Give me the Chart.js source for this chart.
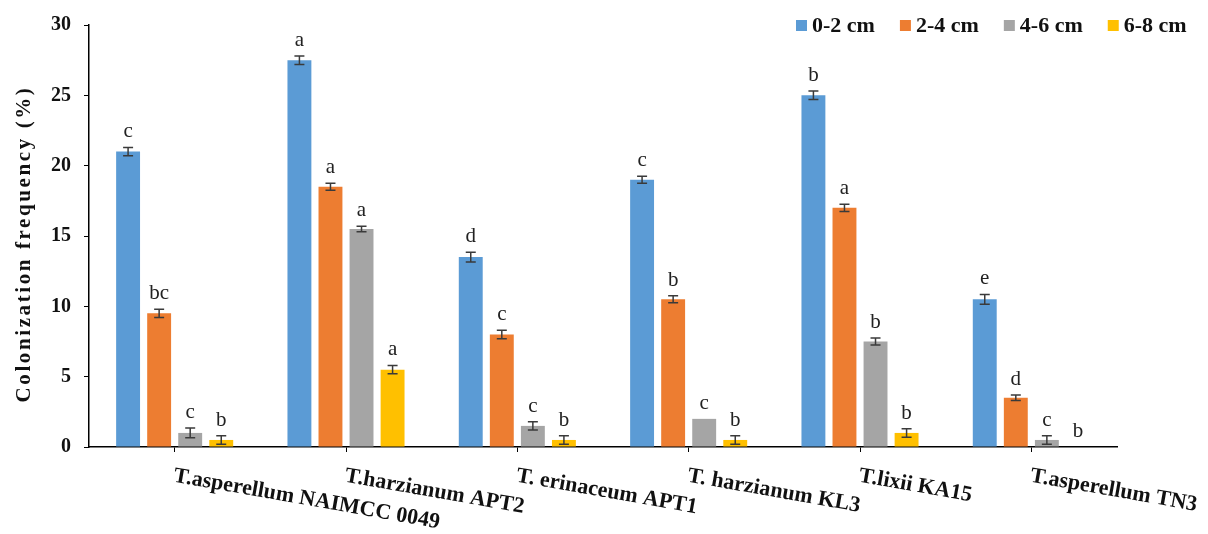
<!DOCTYPE html>
<html>
<head>
<meta charset="utf-8">
<script src="https://cdn.jsdelivr.net/npm/chart.js@4"></script>
<style>
	html, body { margin: 0; padding: 0; background: #fff; }
	#wrap { width: 1208px; height: 534px; position: relative; }
</style>
</head>
<body>
<div id="wrap"><canvas id="colonChart"></canvas></div>
<script>
const strains = ['T.asperellum NAIMCC 0049', 'T.harzianum APT2', 'T. erinaceum APT1', 'T. harzianum KL3', 'T.lixii KA15', 'T.asperellum TN3'];
const depths = ['0-2 cm', '2-4 cm', '4-6 cm', '6-8 cm'];
const colours = ['#5b9bd5', '#ed7d31', '#a5a5a5', '#ffc000'];

const depth0to2 = [21, 27.5, 13.5, 19, 25, 10.5];
const depth2to4 = [9.5, 18.5, 8, 10.5, 17, 3.5];
const depth4to6 = [1, 15.5, 1.5, 2, 7.5, 0.5];
const depth6to8 = [0.5, 5.5, 0.5, 0.5, 1, 0];

const err0to2 = [0.3, 0.3, 0.35, 0.25, 0.3, 0.35];
const err2to4 = [0.3, 0.25, 0.3, 0.25, 0.25, 0.2];
const err4to6 = [0.35, 0.2, 0.3, 0, 0.25, 0.3];
const err6to8 = [0.3, 0.3, 0.3, 0.3, 0.3, 0];

const letters0to2 = ['c', 'a', 'd', 'c', 'b', 'e'];
const letters2to4 = ['bc', 'a', 'c', 'b', 'a', 'd'];
const letters4to6 = ['c', 'a', 'c', 'c', 'b', 'c'];
const letters6to8 = ['b', 'a', 'b', 'b', 'b', 'b'];

const yTitle = 'Colonization frequency (%)';
const serif = '"Liberation Serif", "Times New Roman", serif';

const values = [depth0to2, depth2to4, depth4to6, depth6to8];
const errors = [err0to2, err2to4, err4to6, err6to8];
const letters = [letters0to2, letters2to4, letters4to6, letters6to8];

const annotate = {
	id: 'annotate',
	afterDatasetsDraw(chart) {
		const ctx = chart.ctx;
		const y = chart.scales.y;
		ctx.save();
		chart.data.datasets.forEach((ds, d) => {
			const meta = chart.getDatasetMeta(d);
			meta.data.forEach((bar, i) => {
				const v = ds.data[i];
				const e = errors[d][i];
				const top = y.getPixelForValue(v + e);
				const bot = y.getPixelForValue(v - e);
				if (e > 0) {
					ctx.strokeStyle = '#3a3a3a';
					ctx.lineWidth = 1.5;
					ctx.beginPath();
					ctx.moveTo(bar.x, top); ctx.lineTo(bar.x, bot);
					ctx.moveTo(bar.x - 5, top); ctx.lineTo(bar.x + 5, top);
					ctx.moveTo(bar.x - 5, bot); ctx.lineTo(bar.x + 5, bot);
					ctx.stroke();
				}
				ctx.fillStyle = '#222';
				ctx.font = '21px ' + serif;
				ctx.textAlign = 'center';
				ctx.textBaseline = 'alphabetic';
				ctx.fillText(letters[d][i], bar.x, top - 10);
			});
		});
		ctx.restore();
	},
	afterDraw(chart) {
		const ctx = chart.ctx;
		const x = chart.scales.x;
		const area = chart.chartArea;
		ctx.save();
		// slanted strain names
		ctx.fillStyle = '#111';
		ctx.font = 'bold 22px ' + serif;
		ctx.textAlign = 'left';
		ctx.textBaseline = 'top';
		strains.forEach((s, i) => {
			const px = x.getPixelForValue(i);
			ctx.save();
			ctx.translate(px + 1, area.bottom + 18);
			ctx.rotate(10 * Math.PI / 180);
			ctx.fillText(s, 0, 0);
			ctx.restore();
		});
		// y title
		ctx.save();
		ctx.translate(25, (area.top + area.bottom) / 2 + 8);
		ctx.rotate(-Math.PI / 2);
		ctx.font = 'bold 21px ' + serif;
		ctx.letterSpacing = '2.6px';
		ctx.textAlign = 'center';
		ctx.textBaseline = 'middle';
		ctx.fillText(yTitle, 0, 0);
		ctx.restore();
		// legend
		ctx.font = 'bold 22px ' + serif;
		ctx.textBaseline = 'middle';
		let lx = 796;
		const ly = 25;
		chart.data.datasets.forEach(ds => {
			ctx.fillStyle = ds.backgroundColor;
			ctx.fillRect(lx, ly - 5, 11, 11);
			ctx.fillStyle = '#111';
			ctx.fillText(ds.label, lx + 16, ly + 1);
			lx += 16 + ctx.measureText(ds.label).width + 25;
		});
		ctx.restore();
	}
};

new Chart(document.getElementById('colonChart'), {
	type: 'bar',
	data: {
		labels: strains,
		datasets: depths.map((d, k) => ({
			label: d,
			data: values[k],
			backgroundColor: colours[k],
			categoryPercentage: 0.725,
			barPercentage: 0.77
		}))
	},
	options: {
		responsive: true,
		maintainAspectRatio: false,
		animation: false,
		layout: {
			padding: { top: 25, left: 15, right: 91, bottom: 0 }
		},
		plugins: {
			legend: { display: false },
			tooltip: { enabled: false }
		},
		scales: {
			x: {
				grid: { offset: false, drawOnChartArea: false, drawTicks: true, tickLength: 5, color: '#000' },
				border: { display: true, color: '#000', width: 1.5 },
				ticks: { display: false },
				afterFit: s => { s.height = 87; }
			},
			y: {
				min: 0,
				max: 30,
				ticks: {
					stepSize: 5,
					padding: 13,
					color: '#111',
					font: { family: serif, size: 20, weight: 'bold' }
				},
				grid: { drawOnChartArea: false, drawTicks: true, tickLength: 5, color: '#000' },
				border: { display: true, color: '#000', width: 1.5 },
				afterFit: s => { s.width = 74; }
			}
		}
	},
	plugins: [annotate]
});
</script>
</body>
</html>
